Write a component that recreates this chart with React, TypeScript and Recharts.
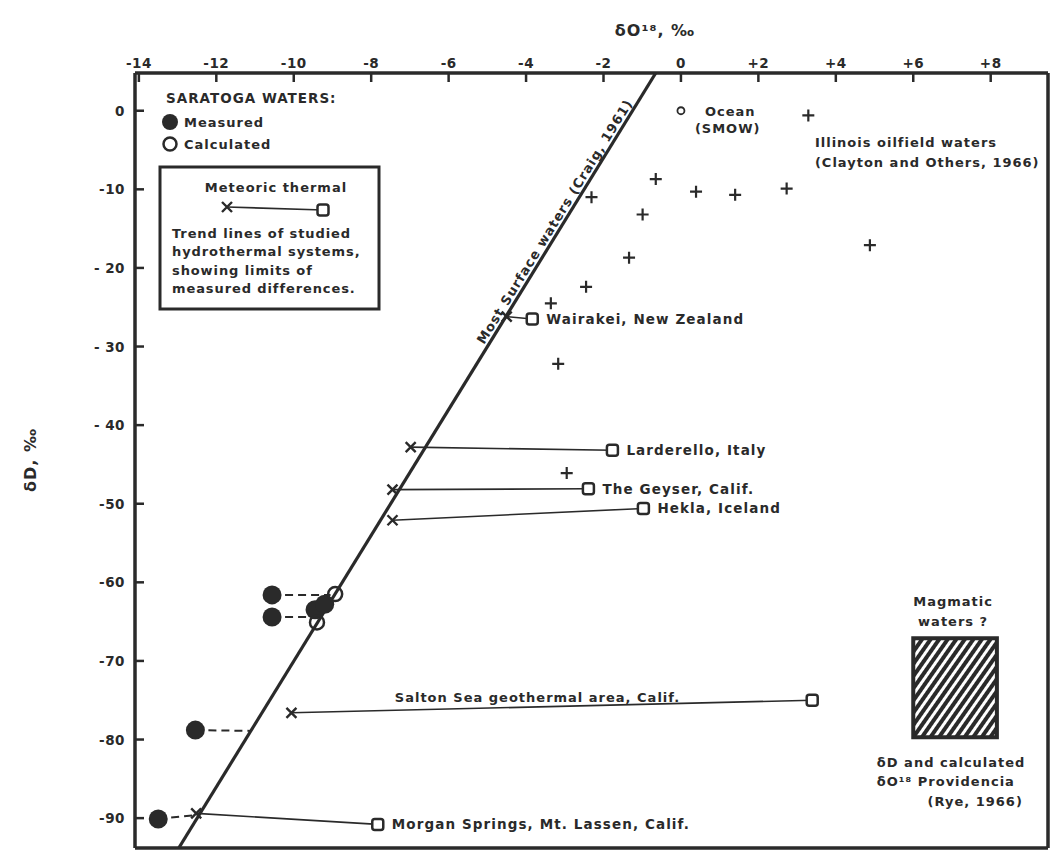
import { ScatterChart, Scatter, XAxis, YAxis, ReferenceLine, ReferenceArea } from 'recharts';

const INK = '#2a2a2a';
const FONT = '"DejaVu Sans", Verdana, sans-serif';
const W = 1051;
const H = 852;
const PLOT_TOP = 73;
const PLOT_LEFT = 135;

const X_DOMAIN: [number, number] = [-14.1, 9.48];
const Y_DOMAIN: [number, number] = [-93.8, 4.8];
const X_TICKS = [-14, -12, -10, -8, -6, -4, -2, 0, 2, 4, 6, 8];
const Y_TICKS = [0, -10, -20, -30, -40, -50, -60, -70, -80, -90];
const Y_TICK_LABELS = ['0', '-10', '- 20', '- 30', '- 40', '-50', '-60', '-70', '-80', '-90'];

// meteoric water line (Craig, 1961), end points at the frame
const MWL = [
  { x: -12.97, y: -93.8 },
  { x: -0.65, y: 4.8 },
];

const OCEAN = [{ x: 0, y: 0 }];

// Illinois oilfield waters
const OILFIELD = [
  { x: 3.29, y: -0.6 },
  { x: -0.65, y: -8.7 },
  { x: 0.39, y: -10.3 },
  { x: 1.4, y: -10.7 },
  { x: 2.73, y: -9.9 },
  { x: -2.31, y: -11.0 },
  { x: -0.99, y: -13.2 },
  { x: 4.88, y: -17.1 },
  { x: -1.34, y: -18.7 },
  { x: -2.45, y: -22.4 },
  { x: -3.36, y: -24.5 },
  { x: -3.17, y: -32.2 },
  { x: -2.95, y: -46.1 },
];

const SARATOGA_MEASURED = [
  { x: -10.56, y: -61.6 },
  { x: -10.56, y: -64.4 },
  { x: -9.45, y: -63.5 },
  { x: -9.2, y: -62.8 },
  { x: -12.54, y: -78.8 },
  { x: -13.5, y: -90.1 },
];
const SARATOGA_CALCULATED = [
  { x: -8.93, y: -61.5 },
  { x: -9.4, y: -65.1 },
];
const SARATOGA_LINKS = [
  [{ x: -10.56, y: -61.6 }, { x: -9.05, y: -61.6 }],
  [{ x: -10.56, y: -64.4 }, { x: -9.5, y: -64.4 }],
  [{ x: -12.54, y: -78.8 }, { x: -11.12, y: -78.9 }],
  [{ x: -13.5, y: -90.1 }, { x: -12.52, y: -89.6 }],
];

// trend lines of hydrothermal systems: meteoric end (x) -> thermal end (square)
const TAIL_LABELS = ['Wairakei, New Zealand', 'Larderello, Italy', 'The Geyser, Calif.', 'Hekla, Iceland', '', 'Morgan Springs, Mt. Lassen, Calif.'];
const METEORIC_O = [-4.5, -6.98, -7.45, -7.45, -10.06, -12.52];
const METEORIC_D = [-26.2, -42.8, -48.2, -52.1, -76.6, -89.4];
const THERMAL_O = [-3.84, -1.77, -2.39, -0.97, 3.39, -7.83];
const THERMAL_D = [-26.5, -43.2, -48.1, -50.6, -75.0, -90.8];

// magmatic waters box
const MAGMATIC_O = [6.0, 8.16];
const MAGMATIC_D = [-79.7, -67.1];

const START_NOTES = [
  { x: 0.62, y: -0.1, text: 'Ocean' },
  { x: 0.36, y: -2.2, text: '(SMOW)' },
  { x: 3.46, y: -4.1, text: 'Illinois oilfield waters' },
  { x: 3.46, y: -6.6, text: '(Clayton and Others, 1966)' },
  { x: -7.39, y: -74.7, text: 'Salton Sea geothermal area, Calif.' },
  { x: 5.06, y: -82.9, text: 'δD and calculated' },
  { x: 5.06, y: -85.4, text: 'δO¹⁸ Providencia' },
];
const CENTER_NOTES = [
  { x: 7.03, y: -62.5, text: 'Magmatic' },
  { x: 7.03, y: -65.0, text: 'waters ?' },
  { x: 7.6, y: -87.9, text: '(Rye, 1966)' },
];
const MWL_NOTE = [{ x: -3.26, y: -14.1, text: 'Most Surface waters (Craig, 1961)' }];

const txt = { fontFamily: FONT, fontWeight: 700, fontSize: 13, letterSpacing: 1, fill: INK } as const;

const fmtX = (v: number) => (v > 0 ? `+${v}` : `${v}`);

const TopTick = (p: any) => (
  <g>
    <line x1={p.x} x2={p.x} y1={PLOT_TOP} y2={PLOT_TOP + 9} stroke={INK} strokeWidth={2.5} />
    <text x={p.x} y={PLOT_TOP - 5} textAnchor="middle" {...txt} fontSize={13.5} letterSpacing={0.5}>
      {fmtX(p.payload.value)}
    </text>
  </g>
);

const LeftTick = (p: any) => (
  <g>
    <line x1={PLOT_LEFT} x2={PLOT_LEFT + 9} y1={p.y} y2={p.y} stroke={INK} strokeWidth={2.5} />
    <text x={PLOT_LEFT - 10} y={p.y} textAnchor="end" dominantBaseline="central" {...txt} fontSize={13.5} letterSpacing={0.5}>
      {Y_TICK_LABELS[Y_TICKS.indexOf(p.payload.value)]}
    </text>
  </g>
);

const XMark = ({ cx, cy }: { cx: number; cy: number }) => (
  <path d={`M${cx - 5},${cy - 5}L${cx + 5},${cy + 5}M${cx - 5},${cy + 5}L${cx + 5},${cy - 5}`} stroke={INK} strokeWidth={2.4} />
);
const SquareMark = ({ cx, cy }: { cx: number; cy: number }) => (
  <rect x={cx - 5.5} y={cy - 5.5} width={11} height={11} rx={2.5} fill="#fff" stroke={INK} strokeWidth={2.5} />
);
const PlusMark = (p: any) => (
  <path d={`M${p.cx - 6},${p.cy}L${p.cx + 6},${p.cy}M${p.cx},${p.cy - 6}L${p.cx},${p.cy + 6}`} stroke={INK} strokeWidth={2.2} />
);
const Empty = () => <g />;

const TrendShape = (p: any) => {
  if (p.payload.kind === 'x') return <XMark cx={p.cx} cy={p.cy} />;
  return (
    <g>
      <SquareMark cx={p.cx} cy={p.cy} />
      {p.payload.label ? (
        <text x={p.cx + 14} y={p.cy} dominantBaseline="central" {...txt} fontSize={13.5} letterSpacing={1.1}>
          {p.payload.label}
        </text>
      ) : null}
    </g>
  );
};

function Legend() {
  return (
    <svg width={W} height={H} style={{ position: 'absolute', left: 0, top: 0, pointerEvents: 'none' }}>
      <text x={655} y={30} textAnchor="middle" dominantBaseline="central" {...txt} fontSize={16}>
        δO¹⁸, ‰
      </text>
      <text x={30} y={460} textAnchor="middle" dominantBaseline="central" transform="rotate(-90 30 460)" {...txt} fontSize={16}>
        δD, ‰
      </text>
      <text x={166} y={98} dominantBaseline="central" {...txt} fontSize={13.5}>
        SARATOGA WATERS:
      </text>
      <circle cx={170} cy={122} r={8} fill={INK} />
      <text x={184} y={122} dominantBaseline="central" {...txt}>Measured</text>
      <circle cx={170} cy={144} r={6.5} fill="none" stroke={INK} strokeWidth={2.5} />
      <text x={184} y={144} dominantBaseline="central" {...txt}>Calculated</text>
      <rect x={160} y={167} width={219} height={142} fill="#fff" stroke={INK} strokeWidth={3} />
      <text x={276} y={187} textAnchor="middle" dominantBaseline="central" {...txt}>Meteoric thermal</text>
      <line x1={227} x2={323} y1={207} y2={210} stroke={INK} strokeWidth={1.6} />
      <XMark cx={227} cy={207} />
      <SquareMark cx={323} cy={210} />
      {['Trend lines of studied', 'hydrothermal  systems,', 'showing limits of', 'measured  differences.'].map((s, i) => (
        <text key={s} x={172} y={233 + i * 18.5} dominantBaseline="central" {...txt} letterSpacing={0.9}>
          {s}
        </text>
      ))}
    </svg>
  );
}

export default function App() {
  return (
    <div style={{ position: 'absolute', left: 0, top: 0, width: W, height: H, background: '#fff' }}>
      <ScatterChart width={W} height={H} margin={{ top: 0, right: 3, bottom: 4, left: 0 }}>
        <defs>
          <pattern id="hatch" width={7} height={7} patternUnits="userSpaceOnUse" patternTransform="rotate(35)">
            <rect width={7} height={7} fill="#fff" />
            <rect width={4} height={7} fill={INK} />
          </pattern>
        </defs>
        <XAxis
          type="number"
          dataKey="x"
          orientation="top"
          height={PLOT_TOP}
          domain={X_DOMAIN}
          ticks={X_TICKS}
          allowDataOverflow
          tickLine={false}
          tick={TopTick}
          axisLine={{ stroke: INK, strokeWidth: 3.5 }}
        />
        <YAxis
          type="number"
          dataKey="y"
          width={PLOT_LEFT}
          domain={Y_DOMAIN}
          ticks={Y_TICKS}
          allowDataOverflow
          tickLine={false}
          tick={LeftTick}
          axisLine={{ stroke: INK, strokeWidth: 3.5 }}
        />
        <ReferenceLine x={X_DOMAIN[1]} stroke={INK} strokeWidth={3.5} ifOverflow="visible" />
        <ReferenceLine y={Y_DOMAIN[0]} stroke={INK} strokeWidth={3.5} ifOverflow="visible" />
        <ReferenceArea
          x1={MAGMATIC_O[0]}
          x2={MAGMATIC_O[1]}
          y1={MAGMATIC_D[0]}
          y2={MAGMATIC_D[1]}
          fill="url(#hatch)"
          fillOpacity={1}
          stroke={INK}
          strokeWidth={4}
        />
        <Scatter data={MWL} line={{ stroke: INK, strokeWidth: 3.2 }} shape={Empty} isAnimationActive={false} />
        {SARATOGA_LINKS.map((d, i) => (
          <Scatter key={`l${i}`} data={d} line={{ stroke: INK, strokeWidth: 2, strokeDasharray: '8 5' }} shape={Empty} isAnimationActive={false} />
        ))}
        {TAIL_LABELS.map((label, i) => (
          <Scatter
            key={`t${i}`}
            data={[
              { x: METEORIC_O[i], y: METEORIC_D[i], kind: 'x' },
              { x: THERMAL_O[i], y: THERMAL_D[i], kind: 'sq', label },
            ]}
            line={{ stroke: INK, strokeWidth: 1.6 }}
            shape={TrendShape}
            isAnimationActive={false}
          />
        ))}
        <Scatter data={OILFIELD} shape={PlusMark} isAnimationActive={false} />
        <Scatter
          data={OCEAN}
          shape={(p: any) => <circle cx={p.cx} cy={p.cy} r={3.5} fill="#fff" stroke={INK} strokeWidth={1.8} />}
          isAnimationActive={false}
        />
        <Scatter data={SARATOGA_MEASURED} shape={(p: any) => <circle cx={p.cx} cy={p.cy} r={9.5} fill={INK} />} isAnimationActive={false} />
        <Scatter
          data={SARATOGA_CALCULATED}
          shape={(p: any) => <circle cx={p.cx} cy={p.cy} r={7} fill="none" stroke={INK} strokeWidth={2.5} />}
          isAnimationActive={false}
        />
        <Scatter
          data={START_NOTES}
          shape={(p: any) => (
            <text x={p.cx} y={p.cy} dominantBaseline="central" {...txt}>
              {p.payload.text}
            </text>
          )}
          isAnimationActive={false}
        />
        <Scatter
          data={CENTER_NOTES}
          shape={(p: any) => (
            <text x={p.cx} y={p.cy} textAnchor="middle" dominantBaseline="central" {...txt}>
              {p.payload.text}
            </text>
          )}
          isAnimationActive={false}
        />
        <Scatter
          data={MWL_NOTE}
          shape={(p: any) => (
            <text
              x={p.cx}
              y={p.cy}
              textAnchor="middle"
              dominantBaseline="central"
              transform={`rotate(-58.4 ${p.cx} ${p.cy})`}
              {...txt}
              fontSize={13}
            >
              {p.payload.text}
            </text>
          )}
          isAnimationActive={false}
        />
      </ScatterChart>
      <Legend />
    </div>
  );
}
